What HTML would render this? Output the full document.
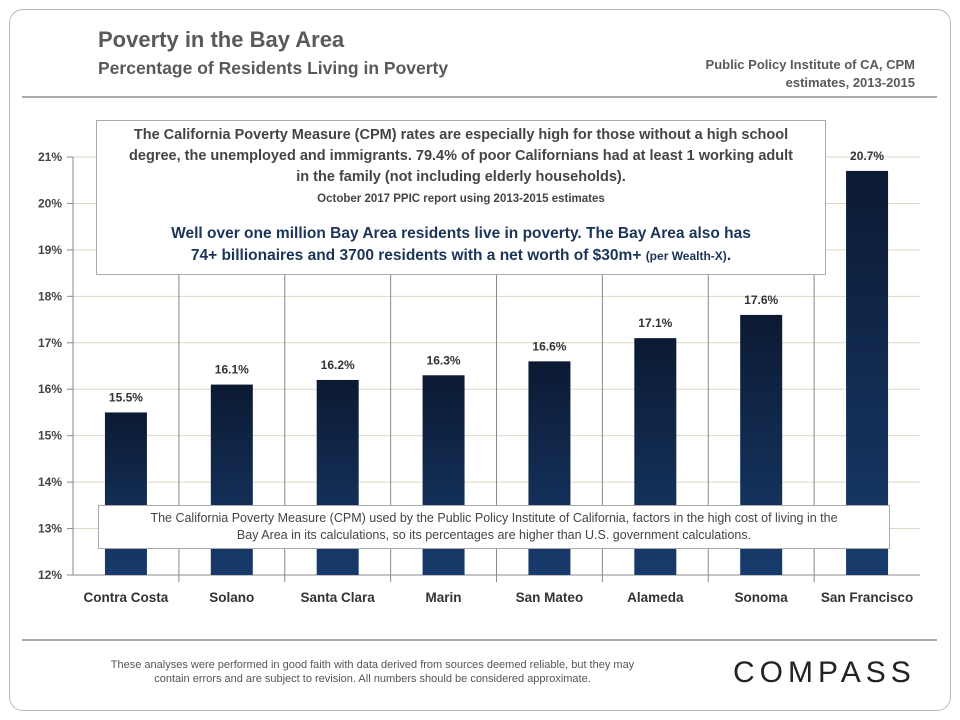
<!DOCTYPE html>
<html><head><meta charset="utf-8"><style>
body{margin:0;background:#fff;font-family:"Liberation Sans",sans-serif}
#frame{position:absolute;left:9px;top:9px;width:940px;height:700px;border:1px solid #bbb;border-radius:14px}
.t{position:absolute;white-space:nowrap}
</style></head><body>
<div id="frame"></div>
<div class="t" style="left:98px;top:27px;font-size:22px;font-weight:bold;color:#595959">Poverty in the Bay Area</div>
<div class="t" style="left:98px;top:58px;font-size:17.5px;font-weight:bold;color:#595959">Percentage of Residents Living in Poverty</div>
<div class="t" style="left:660px;top:56px;width:255px;font-size:13px;font-weight:bold;color:#595959;text-align:right;white-space:normal;line-height:18px">Public Policy Institute of CA, CPM estimates, 2013-2015</div>
<div style="position:absolute;left:22px;top:96px;width:915px;height:2px;background:#aaa"></div>
<svg id="chart" width="960" height="720" style="position:absolute;left:0;top:0"></svg>
<div style="position:absolute;left:96px;top:120px;width:730px;height:155px;border:1px solid #aaa;background:#fff;text-align:center;color:#444;font-size:14.5px;font-weight:bold;line-height:21px;padding-top:4px;box-sizing:border-box">
The California Poverty Measure (CPM) rates are especially high for those without a high school<br>degree, the unemployed and immigrants. 79.4% of poor Californians had at least 1 working adult<br>in the family (not including elderly households).<br>
<span style="font-size:11.5px;line-height:16px">October 2017 PPIC report using 2013-2015 estimates</span><br>
<div style="color:#1b3458;font-size:15.5px;line-height:22px;margin-top:14px">Well over one million Bay Area residents live in poverty. The Bay Area also has<br>74+ billionaires and 3700 residents with a net worth of $30m+ <span style="font-size:12px">(per Wealth-X)</span>.</div>
</div>
<div style="position:absolute;left:98px;top:505px;width:792px;height:44px;border:1px solid #aaa;background:#fff;text-align:center;color:#444;font-size:12.5px;line-height:17px;padding-top:4px;box-sizing:border-box">The California Poverty Measure (CPM) used by the Public Policy Institute of California, factors in the high cost of living in the<br>Bay Area in its calculations, so its percentages are higher than U.S. government calculations.</div>
<div style="position:absolute;left:22px;top:639px;width:915px;height:2px;background:#aaa"></div>
<div class="t" style="left:95px;top:658px;width:555px;text-align:center;font-size:11px;color:#555;white-space:normal;line-height:14px">These analyses were performed in good faith with data derived from sources deemed reliable, but they may contain errors and are subject to revision.  All numbers should be considered approximate.</div>
<div class="t" style="left:733px;top:656px;font-size:30px;letter-spacing:5px;color:#222">COMPASS</div>
<script>
const categories=["Contra Costa","Solano","Santa Clara","Marin","San Mateo","Alameda","Sonoma","San Francisco"];
const values=[15.5,16.1,16.2,16.3,16.6,17.1,17.6,20.7];
const yTicks=[12,13,14,15,16,17,18,19,20,21];
const svg=document.getElementById('chart');
const NS='http://www.w3.org/2000/svg';
const x0=73,x1=920,yMin=12,yMax=21,py0=575,py1=157;
const bw=(x1-x0)/categories.length;
const y=v=>py0-(v-yMin)*(py0-py1)/(yMax-yMin);
const xc=i=>x0+bw*(i+0.5);
function mk(t,a){const e=document.createElementNS(NS,t);for(const k in a)e.setAttribute(k,a[k]);svg.appendChild(e);return e;}
const defs=mk('defs',{});
defs.innerHTML='<linearGradient id="g" x1="0" y1="0" x2="0" y2="1"><stop offset="0" stop-color="#0c1a33"/><stop offset="1" stop-color="#173b6c"/></linearGradient>';
yTicks.forEach(v=>{
 const l=mk('line',{x1:x0,x2:x1,y1:y(v),y2:y(v),stroke:v===yMin?'#888':'#ddd8c4','stroke-width':1});
 
 
 mk('line',{x1:x0-6,x2:x0,y1:y(v),y2:y(v),stroke:'#888'});
 const t=mk('text',{x:x0-11,y:y(v)+4,'text-anchor':'end','font-size':12,'font-weight':'bold',fill:'#444','font-family':'Liberation Sans'});
 t.textContent=v+'%';
 
 
});
mk('line',{x1:x0,x2:x0,y1:py1,y2:py0,stroke:'#888'});
for(let i=1;i<categories.length;i++){mk('line',{x1:x0+bw*i,x2:x0+bw*i,y1:py1,y2:py0+7,stroke:'#888'});}
categories.forEach((c,i)=>{
 const r=mk('rect',{x:xc(i)-21,y:y(values[i]),width:42,height:py0-y(values[i]),fill:'url(#g)'});
 
 
 const v=mk('text',{x:xc(i),y:y(values[i])-11,'text-anchor':'middle','font-size':12,'font-weight':'bold',fill:'#333','font-family':'Liberation Sans'});
 v.textContent=values[i].toFixed(1)+'%';
 
 
 const t=mk('text',{x:xc(i),y:py0+27,'text-anchor':'middle','font-size':13.5,'font-weight':'bold',fill:'#333','font-family':'Liberation Sans'});
 t.textContent=c;
 
 
});
</script>
</body></html>
